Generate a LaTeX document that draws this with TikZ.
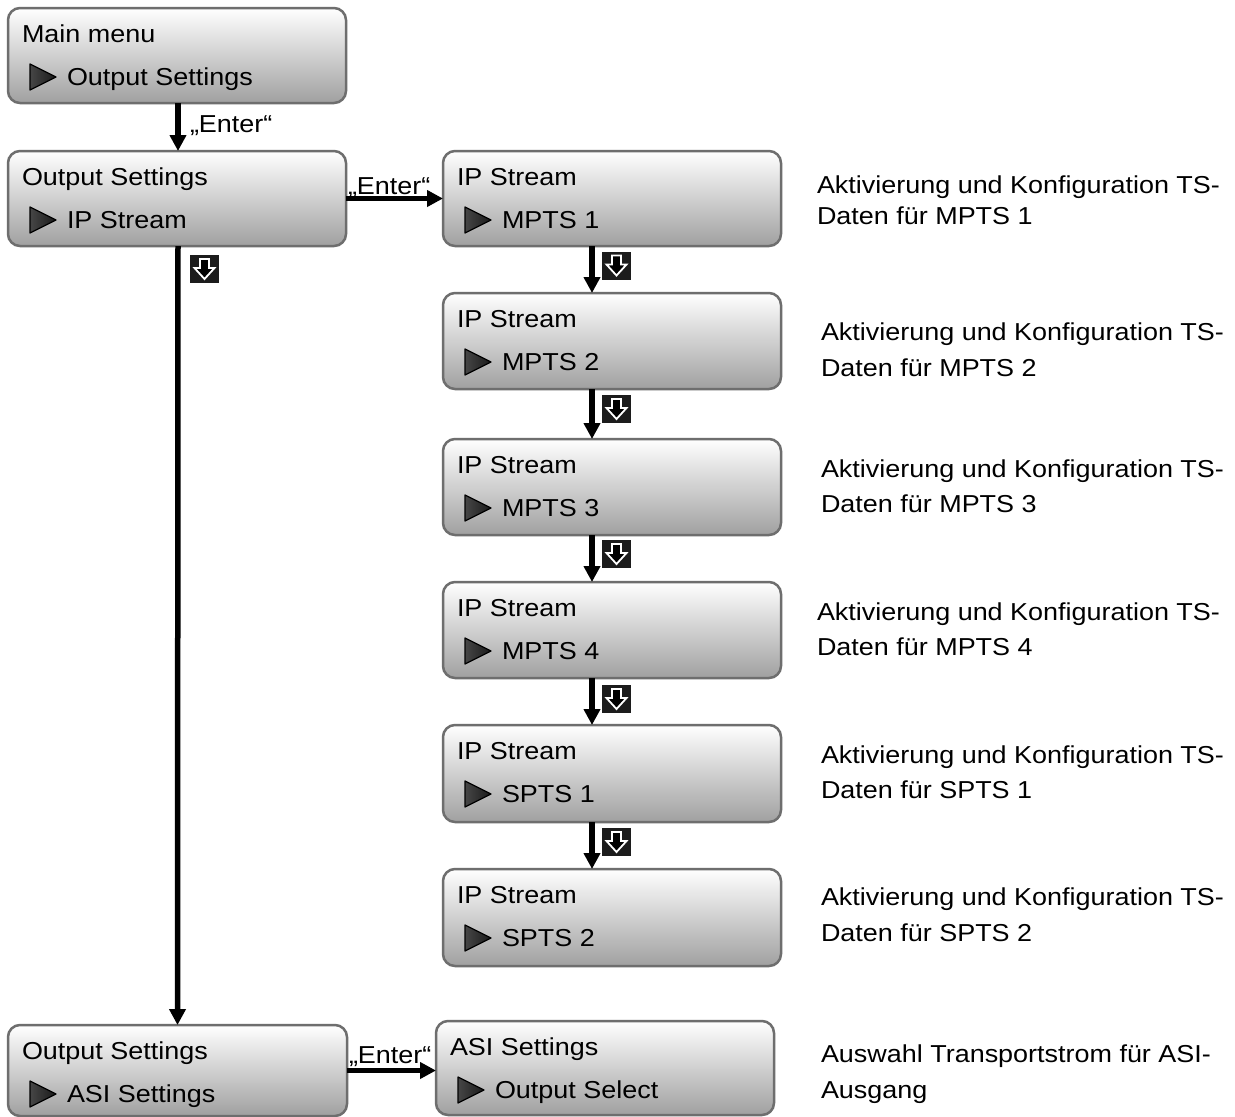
\documentclass[tikz,border=0pt]{standalone}
\usepackage{fontspec}
\setmainfont{Liberation Sans}[FakeStretch=1.1]
\usetikzlibrary{arrows.meta}
\definecolor{boxborder}{HTML}{6E6E6E}
\definecolor{boxbottom}{HTML}{A0A0A0}
\definecolor{icondark}{HTML}{1C1C1C}
\tikzset{
  menubox/.style={draw=boxborder, line width=2.5pt, rounded corners=12pt,
    top color=white, bottom color=boxbottom, anchor=north west,
    inner sep=0pt, outer sep=0pt},
  txt/.style={anchor=base west, inner sep=0pt, outer sep=0pt,
    font=\fontsize{24.5}{29}\selectfont},
  conn/.style={line width=5.5pt, -{Triangle[length=16pt,width=16pt]}},
  tri/.style={draw=black, line width=1.2pt, left color=gray!55!black,
    right color=black!90, line join=round},
  iconbox/.style={fill=icondark, minimum width=29pt, minimum height=28pt,
    inner sep=0pt, outer sep=0pt},
  iconarrow/.style={draw=white, line width=1.8pt, fill=black, line join=miter},
}
\newcommand\menuentry[7]{% name, x, y, width, height, line1, line2
  \node[menubox, minimum width=#4pt, minimum height=#5pt] (#1) at (#2,#3) {};
  \node[txt] (#1-a) at ([xshift=14pt,yshift=-34pt]#1.north west) {#6};
  \path[tri] ([xshift=22pt,yshift=-56pt]#1.north west) -- ++(26pt,-13pt)
    -- ++(-26pt,-13pt) -- cycle;
  \node[txt] (#1-b) at ([xshift=59pt,yshift=-77pt]#1.north west) {#7};
}
\newcommand\downicon[3]{% name, x, y
  \node[iconbox] (#1) at (#2,#3) {};
  \path[iconarrow] ([shift={(-4.5pt,10pt)}]#1.center) -- ++(9pt,0pt)
    -- ++(0pt,-9pt) -- ++(5.5pt,0pt) -- ++(-10pt,-11pt) -- ++(-10pt,11pt)
    -- ++(5.5pt,0pt) -- cycle;
}
\begin{document}
\begin{tikzpicture}[x=1pt, y=-1pt]
  \fill[white] (0,0) rectangle (1235,1117);
  \useasboundingbox (0,0) rectangle (1235,1117);

  % left column
  \menuentry{b1}{8}{8}{338}{95}{Main menu}{Output Settings}
  \menuentry{b2}{8}{151}{338}{95}{Output Settings}{IP Stream}
  \menuentry{a1}{8}{1025}{339}{91}{Output Settings}{ASI Settings}

  % IP Stream column
  \menuentry{m1}{443}{151}{338}{95}{IP Stream}{MPTS 1}
  \menuentry{m2}{443}{293}{338}{96}{IP Stream}{MPTS 2}
  \menuentry{m3}{443}{439}{338}{96}{IP Stream}{MPTS 3}
  \menuentry{m4}{443}{582}{338}{96}{IP Stream}{MPTS 4}
  \menuentry{s1}{443}{725}{338}{97}{IP Stream}{SPTS 1}
  \menuentry{s2}{443}{869}{338}{97}{IP Stream}{SPTS 2}
  \menuentry{a2}{436}{1021}{338}{94}{ASI Settings}{Output Select}

  % connectors
  \draw[conn] ([xshift=1pt]b1.south) -- ([xshift=1pt]b2.north);
  \draw[conn] ([xshift=1pt]b2.south) -- (a1.north);
  \draw[conn] (b2.east) -- (m1.west);
  \draw[conn] (a1.east) -- (a1.east -| a2.west);
  \draw[conn] ([xshift=-20pt]m1.south) -- ([xshift=-20pt]m2.north);
  \draw[conn] ([xshift=-20pt]m2.south) -- ([xshift=-20pt]m3.north);
  \draw[conn] ([xshift=-20pt]m3.south) -- ([xshift=-20pt]m4.north);
  \draw[conn] ([xshift=-20pt]m4.south) -- ([xshift=-20pt]s1.north);
  \draw[conn] ([xshift=-20pt]s1.south) -- ([xshift=-20pt]s2.north);

  % connector labels
  \node[txt] (e1) at (190,132) {„Enter“};
  \node[txt] (e2) at (348,194) {„Enter“};
  \node[txt] (e3) at (349,1063) {„Enter“};

  % down-key icons
  \downicon{k0}{204.5}{269}
  \downicon{k1}{616.5}{265.5}
  \downicon{k2}{616.5}{409}
  \downicon{k3}{616.5}{554}
  \downicon{k4}{616.5}{699}
  \downicon{k5}{616.5}{842}

  % descriptions
  \node[txt] (d1a) at (817,193) {Aktivierung und Konfiguration TS-};
  \node[txt] (d1b) at (817,224) {Daten für MPTS 1};
  \node[txt] (d2a) at (821,340) {Aktivierung und Konfiguration TS-};
  \node[txt] (d2b) at (821,376) {Daten für MPTS 2};
  \node[txt] (d3a) at (821,477) {Aktivierung und Konfiguration TS-};
  \node[txt] (d3b) at (821,512) {Daten für MPTS 3};
  \node[txt] (d4a) at (817,620) {Aktivierung und Konfiguration TS-};
  \node[txt] (d4b) at (817,655) {Daten für MPTS 4};
  \node[txt] (d5a) at (821,763) {Aktivierung und Konfiguration TS-};
  \node[txt] (d5b) at (821,798) {Daten für SPTS 1};
  \node[txt] (d6a) at (821,905) {Aktivierung und Konfiguration TS-};
  \node[txt] (d6b) at (821,941) {Daten für SPTS 2};
  \node[txt] (d7a) at (821,1062) {Auswahl Transportstrom für ASI-};
  \node[txt] (d7b) at (821,1098) {Ausgang};
\end{tikzpicture}
\end{document}
